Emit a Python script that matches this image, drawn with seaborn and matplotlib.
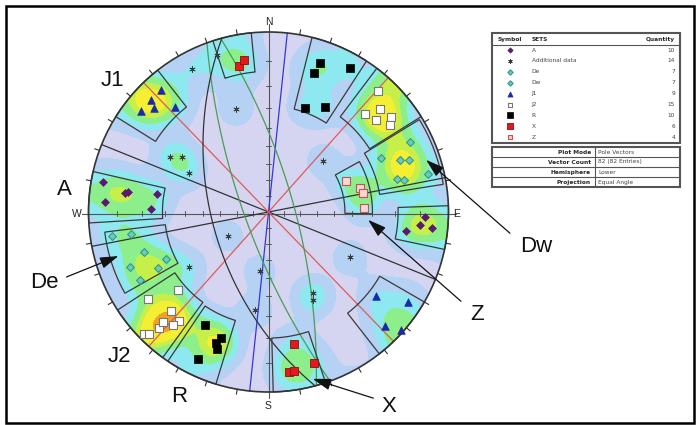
import numpy as np
import pandas as pd
import matplotlib
matplotlib.use('Agg')
import matplotlib.pyplot as plt
from matplotlib.patches import Circle, Rectangle, Polygon
import seaborn as sns

# pole vectors per set: trend / plunge (degrees), lower hemisphere
A_trend = [280.3, 273.4, 277.4, 278.2, 279.1, 271.3, 91.7, 94.9, 95.7, 97.7]
A_plunge = [3.8, 5.4, 12.4, 13.6, 25.6, 23.6, 7.8, 9.6, 5.2, 14.6]
ADD_trend = [342.0, 331.7, 342.6, 299.3, 302.2, 295.9, 46.8, 239.8, 235.2, 188.4, 188.0, 119.2, 151.4, 153.3]
ADD_plunge = [4.8, 5.9, 28.0, 25.8, 30.6, 37.6, 45.0, 60.6, 33.4, 53.4, 32.4, 35.4, 35.6, 32.6]
DE_trend = [261.3, 260.8, 252.1, 245.1, 248.3, 243.0, 242.2]
DE_plunge = [7.2, 14.4, 17.8, 26.0, 10.8, 20.8, 12.0]
DW_trend = [63.6, 64.5, 68.5, 69.7, 76.6, 75.7, 76.8]
DW_plunge = [7.5, 20.6, 13.6, 10.6, 5.4, 17.4, 14.4]
J1_trend = [318.6, 313.5, 312.3, 308.5, 318.6, 127.9, 122.8, 134.5, 131.6]
J1_plunge = [5.8, 5.8, 8.8, 5.8, 14.0, 15.6, 4.8, 5.7, 0.7]
J2_trend = [42.2, 47.4, 44.5, 49.5, 52.3, 54.4, 229.3, 234.2, 224.6, 219.5, 220.1, 223.4, 225.4, 224.3, 223.9]
J2_plunge = [5.6, 9.6, 15.4, 13.6, 8.6, 10.8, 22.8, 11.0, 14.8, 13.8, 11.2, 6.8, 1.8, 3.0, 9.4]
R_trend = [19.0, 18.0, 29.3, 19.2, 28.4, 209.4, 200.6, 201.7, 200.7, 205.7]
R_plunge = [7.6, 11.8, 4.8, 27.0, 22.8, 18.4, 16.6, 13.8, 11.6, 5.6]
X_trend = [348.4, 350.7, 169.2, 163.3, 172.8, 171.0]
X_plunge = [10.8, 8.8, 16.4, 7.5, 6.4, 6.4]
Z_trend = [67.9, 75.4, 78.8, 87.4]
Z_plunge = [40.4, 34.6, 33.6, 34.2]

set_names = ['A', 'Additional data', 'De', 'Dw', 'J1', 'J2', 'R', 'X', 'Z']
set_trends = [A_trend, ADD_trend, DE_trend, DW_trend, J1_trend, J2_trend, R_trend, X_trend, Z_trend]
set_plunges = [A_plunge, ADD_plunge, DE_plunge, DW_plunge, J1_plunge, J2_plunge, R_plunge, X_plunge, Z_plunge]

# planes: dip direction / dip
plane_dipdir = [22.0, 169.0, 96.0, 226.0, 131.7, 250.0, 74.6, 255.0]
plane_dip = [90, 90, 90, 90, 90, 75, 73.5, 55]

# set windows: trend range, plunge range
win_trend1 = [302, 120, 266.5, 88, 240.5, 58.5, 37, 216, 14, 197, 342, 161.5, 61]
win_trend2 = [322, 142, 283, 102, 263, 81, 58, 237, 33, 214, 354.5, 178.5, 91]
win_plunge1 = [0, 0, 0, 0, 5, 1, 0, 0, 0, 0, 0, 0, 30]
win_plunge2 = [17, 19, 29, 18.5, 30, 26, 23, 26.4, 29, 25.6, 14, 20, 44]

plot_info = [('Plot Mode', 'Pole Vectors'), ('Vector Count', '82 (82 Entries)'),
             ('Hemisphere', 'Lower'), ('Projection', 'Equal Angle')]

CX, CY, R = 268.5, 212.0, 180.0


def project(trend, plunge):
    t = np.radians(np.asarray(trend, dtype=float))
    p = np.radians(np.asarray(plunge, dtype=float))
    r = np.tan(np.pi / 4 - p / 2)
    return CX + R * r * np.sin(t), CY - R * r * np.cos(t)


def great_circle(dd, dip):
    a = np.linspace(0, np.pi, 241)
    s_az, d_az, dp = np.radians(dd - 90), np.radians(dd), np.radians(dip)
    sv = np.array([np.sin(s_az), np.cos(s_az), 0.0])
    dv = np.array([np.cos(dp) * np.sin(d_az), np.cos(dp) * np.cos(d_az), np.sin(dp)])
    v = np.outer(np.cos(a), sv) + np.outer(np.sin(a), dv)
    pl = np.degrees(np.arcsin(np.clip(v[:, 2], -1, 1)))
    tr = np.degrees(np.arctan2(v[:, 0], v[:, 1]))
    return project(tr, pl)


rows = []
for name, trs, pls in zip(set_names, set_trends, set_plunges):
    for t, p in zip(trs, pls):
        rows.append((name, t, p))
df = pd.DataFrame(rows, columns=['set', 'trend', 'plunge'])
df['x'], df['y'] = project(df['trend'], df['plunge'])

sns.set_style('white')
plt.rcParams['font.family'] = ['Liberation Sans', 'DejaVu Sans']

fig = plt.figure(figsize=(7, 4.25), dpi=100)
ax = fig.add_axes([0, 0, 1, 1])
ax.set_xlim(0, 700)
ax.set_ylim(425, 0)
ax.axis('off')

# primitive
prim = Circle((CX, CY), R, facecolor='#d5d5f1', edgecolor='none', zorder=0)
ax.add_patch(prim)

# density contours: kernel in the net, wider toward the rim, wrapped across the primitive
gx = np.linspace(CX - R - 2, CX + R + 2, 420)
gy = np.linspace(CY - R - 2, CY + R + 2, 420)
GX, GY = np.meshgrid(gx, gy)
pu = (df['x'].values - CX) / R
pv = (df['y'].values - CY) / R
r2 = pu ** 2 + pv ** 2
sig = 12.0 * (1 + 0.45 * r2)
dens = np.zeros_like(GX)
for a, b, q, s in zip(pu, pv, r2, sig):
    for mx, my in ((a, b), (-a / q, -b / q)):
        dens += np.exp(-((GX - CX - R * mx) ** 2 + (GY - CY - R * my) ** 2) / (2 * s ** 2))
levels = [0.5, 1.3, 2.0, 2.8, 3.4, 4.7, 5.9, 100]
fills = ['#b5d1f3', '#8de9ef', '#8cef8c', '#c6ef4a', '#f5ef33', '#f6a21f', '#ee1c17']
cs = ax.contourf(GX, GY, dens, levels=levels, colors=fills, zorder=1)
cs.set_clip_path(prim)

# outline
ax.add_patch(Circle((CX, CY), R, facecolor='none', edgecolor='#333333', lw=1.2, zorder=5))

# axes and ticks
ax.plot([CX, CX], [CY - R - 8, CY + R + 6], color='#555555', lw=0.8, zorder=2)
ax.plot([CX - R - 7, CX + R + 7], [CY + 1.5, CY + 1.5], color='#555555', lw=0.8, zorder=2)
for p in range(10, 90, 10):
    rr = R * np.tan(np.radians(45 - p / 2))
    for s in (-1, 1):
        ax.plot([CX - 2.5, CX + 2.5], [CY + s * rr, CY + s * rr], color='#555555', lw=0.7, zorder=2)
        ax.plot([CX + s * rr, CX + s * rr], [CY - 1, CY + 4], color='#555555', lw=0.7, zorder=2)
for az in range(10, 360, 10):
    if az % 90 == 0:
        continue
    a = np.radians(az)
    ax.plot([CX + R * np.sin(a), CX + (R + 5) * np.sin(a)],
            [CY - R * np.cos(a), CY - (R + 5) * np.cos(a)], color='#333333', lw=0.8, zorder=5)

ax.text(CX, 22, 'N', ha='center', va='center', fontsize=7.5, color='#222222')
ax.text(CX, 406, 'S', ha='center', va='center', fontsize=7.5, color='#222222')
ax.text(77, 214, 'W', ha='center', va='center', fontsize=7.5, color='#222222')
ax.text(457, 214, 'E', ha='center', va='center', fontsize=7.5, color='#222222')

# planes
plane_colors = ['#333333', '#333333', '#3636d8', '#e05a5a', '#e05a5a', '#4a9c55', '#4a9c55', '#333333']
for dd, dip, c in zip(plane_dipdir, plane_dip, plane_colors):
    x, y = great_circle(dd, dip)
    ax.plot(x, y, color=c, lw=0.9, zorder=3)

# set windows
for t1, t2, p1, p2 in zip(win_trend1, win_trend2, win_plunge1, win_plunge2):
    ts = np.linspace(t1, t2, 40)
    xo, yo = project(ts, np.full_like(ts, p1))
    xi, yi = project(ts[::-1], np.full_like(ts, p2))
    poly = Polygon(np.column_stack([np.r_[xo, xi], np.r_[yo, yi]]), closed=True,
                   facecolor='none', edgecolor='#3a3a3a', lw=0.9, zorder=4)
    ax.add_patch(poly)

# markers
styles = {
    'A': dict(marker='D', s=16, color='#5b1a72', edgecolor='#5b1a72', linewidth=0.5),
    'Additional data': dict(marker=(6, 2, 0), s=16, color='#3a3a3a', linewidth=0.6),
    'De': dict(marker='D', s=16, color='#6fcab9', edgecolor='#2e9a88', linewidth=0.8),
    'Dw': dict(marker='D', s=16, color='#6fcab9', edgecolor='#2e9a88', linewidth=0.8),
    'J1': dict(marker='^', s=30, color='#1a2aa8', edgecolor='#1a2aa8', linewidth=0.5),
    'J2': dict(marker='s', s=28, color='#ffffff', edgecolor='#777777', linewidth=0.8),
    'R': dict(marker='s', s=30, color='#000000', edgecolor='#000000', linewidth=0.5),
    'X': dict(marker='s', s=30, color='#e3191c', edgecolor='#8a1010', linewidth=0.6),
    'Z': dict(marker='s', s=26, color='#f7d6d6', edgecolor='#c05555', linewidth=0.8),
}
for name in set_names:
    sub = df[df['set'] == name]
    sns.scatterplot(data=sub, x='x', y='y', ax=ax, legend=False, zorder=6, **styles[name])
ax.set_xlim(0, 700)
ax.set_ylim(425, 0)
ax.axis('off')

# labels and arrows
for txt, pos in [('J1', (112, 80)), ('A', (64, 189)), ('De', (44, 283)), ('J2', (119, 357)),
                 ('R', (179, 397)), ('X', (389, 406)), ('Z', (477, 315)), ('Dw', (536, 246))]:
    ax.text(pos[0], pos[1], txt, ha='center', va='center', fontsize=16, color='#111111')
for start, tip in [((64, 278), (121, 255)), ((512, 235), (424, 158)),
                   ((463, 303), (366, 218)), ((376, 399), (310, 378))]:
    ax.annotate('', xy=tip, xytext=start,
                arrowprops=dict(arrowstyle='-|>,head_length=0.7,head_width=0.22',
                                color='#111111', lw=0.9, mutation_scale=16), zorder=7)

# legend table
tx0, tx1 = 491.7, 680
ax.add_patch(Rectangle((tx0, 33.3), tx1 - tx0, 110, facecolor='white', edgecolor='#555555', lw=1.5, zorder=6))
ax.plot([tx0, tx1], [45, 45], color='#555555', lw=0.8, zorder=7)
ax.text(510, 39.3, 'Symbol', ha='center', va='center', fontsize=4.2, fontweight='bold', family='DejaVu Sans', zorder=7)
ax.text(531.7, 39.3, 'SETS', ha='left', va='center', fontsize=4.2, fontweight='bold', family='DejaVu Sans', zorder=7)
ax.text(675, 39.3, 'Quantity', ha='right', va='center', fontsize=4.2, fontweight='bold', family='DejaVu Sans', zorder=7)
for i, name in enumerate(set_names):
    yy = 50 + i * 10.9
    st = dict(styles[name])
    st['s'] = st['s'] * 0.45
    ax.scatter([510], [yy], zorder=8, **st)
    ax.text(531.7, yy, name, ha='left', va='center', fontsize=4.2, family='DejaVu Sans', color='#444444', zorder=7)
    ax.text(675, yy, str(len(set_trends[i])), ha='right', va='center', fontsize=4.2,
            family='DejaVu Sans', color='#444444', zorder=7)

ax.add_patch(Rectangle((tx0, 147), tx1 - tx0, 40, facecolor='white', edgecolor='#555555', lw=1.5, zorder=6))
ax.plot([595, 595], [147, 187], color='#555555', lw=0.8, zorder=7)
for i, (k, val) in enumerate(plot_info):
    yy = 152 + i * 10
    if i > 0:
        ax.plot([tx0, tx1], [yy - 5, yy - 5], color='#555555', lw=0.8, zorder=7)
    ax.text(591, yy, k, ha='right', va='center', fontsize=4.2, fontweight='bold', family='DejaVu Sans', zorder=7)
    ax.text(598, yy, val, ha='left', va='center', fontsize=4.2, family='DejaVu Sans', color='#444444', zorder=7)

# frame
ax.add_patch(Rectangle((6, 6), 688, 417, facecolor='none', edgecolor='black', lw=1.8, zorder=9))

fig.savefig('out.png', dpi=100)
